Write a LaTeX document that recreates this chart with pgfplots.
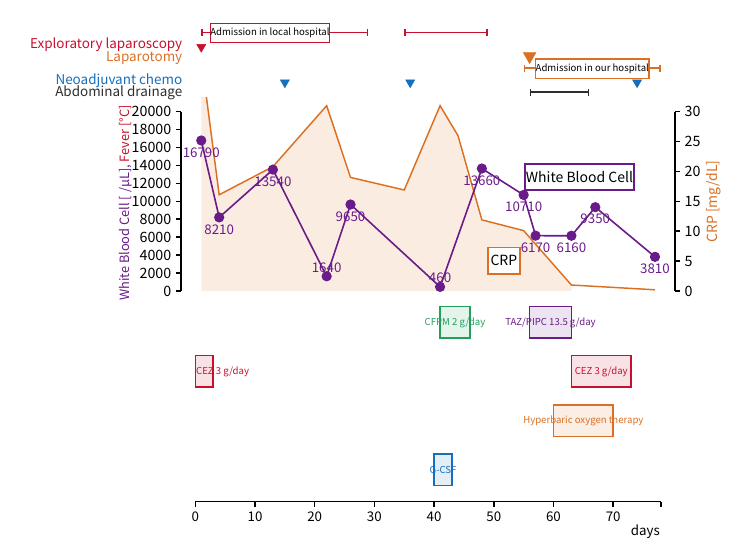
\documentclass[border=0pt]{standalone}
\usepackage{fontspec}
\setmainfont{Noto Sans CJK JP}
\usepackage{pgfplots}
\pgfplotsset{compat=1.18}
\usetikzlibrary{arrows.meta}
\definecolor{wbc}{RGB}{106,27,138}
\definecolor{crp}{RGB}{219,112,35}
\definecolor{crpfill}{RGB}{251,236,226}
\definecolor{crim}{RGB}{200,16,46}
\definecolor{blu}{RGB}{21,110,190}
\definecolor{grn}{RGB}{32,160,90}
\definecolor{drk}{RGB}{45,45,45}
\newcommand\fs[1]{\fontsize{#1}{#1}\selectfont}
\newcommand\px[2]{({#1*0.75pt},{(556-#2)*0.75pt})}
\begin{document}
\begin{tikzpicture}
\path[use as bounding box] (0,0) rectangle (562.5pt,417pt);
% ---------------- bottom (time) axis with annotations ----------------
\begin{axis}[
  at={(146.475pt,40.725pt)}, anchor=south west,
  scale only axis, width=349.245pt, height=361.275pt,
  xmin=0, xmax=78, ymin=54.3, ymax=536,
  axis x line=bottom, axis y line=none,
  x axis line style={line width=1.2pt,-},
  clip=false,
  xtick={0,10,...,70}, extra x ticks={78}, extra x tick labels={},
  tick align=outside, major tick length=3.75pt,
  every tick/.style={black, line width=1.2pt},
  xticklabel style={font=\fs{10}},
  /pgf/number format/assume math mode=true,
]
% event triangles
\addplot[only marks, mark=triangle*, mark size=3.9pt, color=crim, mark options={rotate=180, draw=none, fill=crim}] coordinates {(1,509)};
\addplot[only marks, mark=triangle*, mark size=5.5pt, color=crp, mark options={rotate=180, draw=none, fill=crp}] coordinates {(56,499.8)};
\addplot[only marks, mark=triangle*, mark size=3.9pt, color=blu, mark options={rotate=180, draw=none, fill=blu}] coordinates {(15,473.5)(36,473.5)(74,473.5)};
% admission / drainage bars
\addplot[crim, line width=1.2pt, mark=none, arrows={Bar[width=5pt]-Bar[width=5pt]}] coordinates {(1,523.3)(29,523.3)};
\addplot[crim, line width=1.2pt, mark=none, arrows={Bar[width=5pt]-Bar[width=5pt]}] coordinates {(35,523.3)(49,523.3)};
\addplot[crp, line width=1.2pt, mark=none, arrows={Bar[width=5pt]-Bar[width=5pt]}] coordinates {(55,487.7)(78,487.7)};
\addplot[drk, line width=1.2pt, mark=none, arrows={Bar[width=5pt]-Bar[width=5pt]}] coordinates {(56,463.7)(66,463.7)};
\node[draw=crim, fill=white, line width=1.1pt, minimum width=88.5pt, minimum height=14.5pt, inner sep=0pt, font=\fs{7.2}] at (axis cs:12.5,523) {Admission in local hospital};
\node[draw=crp, fill=white, line width=1.1pt, minimum width=83.7pt, minimum height=14.5pt, inner sep=0pt, font=\fs{7.2}] at (axis cs:66.5,487.3) {Admission in our hospital};
% treatment boxes
\addplot[draw=crim, fill=crim!12, line width=1.2pt, mark=none] coordinates {(0,168.7)(3,168.7)(3,200.3)(0,200.3)} -- cycle;
\addplot[draw=grn, fill=grn!12, line width=1.2pt, mark=none] coordinates {(41,217.7)(46,217.7)(46,249.3)(41,249.3)} -- cycle;
\addplot[draw=wbc, fill=wbc!12, line width=1.2pt, mark=none] coordinates {(56,217.7)(63,217.7)(63,249.3)(56,249.3)} -- cycle;
\addplot[draw=crim, fill=crim!12, line width=1.2pt, mark=none] coordinates {(63,168.7)(73,168.7)(73,200.3)(63,200.3)} -- cycle;
\addplot[draw=crp, fill=crp!12, line width=1.2pt, mark=none] coordinates {(60,119.3)(70,119.3)(70,151)(60,151)} -- cycle;
\addplot[draw=blu, fill=blu!12, line width=1.2pt, mark=none] coordinates {(40,70.3)(43,70.3)(43,102)(40,102)} -- cycle;
\node[anchor=west, inner sep=0pt, text=crim, font=\fs{7.2}] at (axis cs:0.1,184.5) {CEZ 3 g/day};
\node[text=grn, inner sep=0pt, font=\fs{7.2}] at (axis cs:43.5,233.5) {CFPM 2 g/day};
\node[text=wbc, inner sep=0pt, font=\fs{7.2}] at (axis cs:59.5,233.5) {TAZ/PIPC 13.5 g/day};
\node[text=crim, inner sep=0pt, font=\fs{7.2}] at (axis cs:68,184.5) {CEZ 3 g/day};
\node[text=crp, inner sep=0pt, font=\fs{7.2}] at (axis cs:65,135.2) {Hyperbaric oxygen therapy};
\node[text=blu, inner sep=0pt, font=\fs{7.2}] at (axis cs:41.5,86.2) {G-CSF};
\end{axis}
% ---------------- CRP (right) axis ----------------
\begin{axis}[
  at={(135.75pt,198.75pt)}, anchor=south west,
  scale only axis, width=370.5pt, height=144.75pt,
  xmin=-2.395, xmax=80.352, ymin=0, ymax=32.29,
  axis x line=none, axis y line=right,
  y axis line style={draw=none},
  ytick={0,5,...,30},
  tick align=outside, major tick length=3.75pt,
  every tick/.style={black, line width=1.2pt},
  yticklabel style={font=\fs{10.7}},
  /pgf/number format/assume math mode=true,
]
\addplot[fill=crpfill, draw=none, mark=none] coordinates {(1,0)(1,39)(4,16.1)(13,20.8)(22,31.0)(26,19.0)(35,16.9)(41,31.0)(44,26.0)(48,11.9)(55,10.1)(63,1.0)(63,0)} -- cycle;
\addplot[crp, line width=1.1pt, mark=none] coordinates {(1,39)(4,16.1)(13,20.8)(22,31.0)(26,19.0)(35,16.9)(41,31.0)(44,26.0)(48,11.9)(55,10.1)(63,1.0)(77,0.2)};
\coordinate (RT) at (axis cs:80.352,30);
\coordinate (RB) at (axis cs:80.352,0);
\end{axis}
\draw[line width=1.2pt] (RT)--(RB);
% ---------------- WBC (left) axis ----------------
\begin{axis}[
  at={(135.75pt,198.75pt)}, anchor=south west,
  scale only axis, width=370.5pt, height=144.75pt,
  xmin=-2.395, xmax=80.352, ymin=0, ymax=21528,
  axis x line=none, axis y line=left,
  y axis line style={draw=none},
  ytick={0,2000,...,20000}, scaled y ticks=false,
  tick align=outside, major tick length=3.75pt,
  every tick/.style={black, line width=1.2pt},
  yticklabel style={font=\fs{10.7}, /pgf/number format/1000 sep={}},
  /pgf/number format/assume math mode=true,
]
\addplot[wbc, line width=1.2pt, mark=*, mark size=3.2pt] coordinates {(1,16790)(4,8210)(13,13540)(22,1640)(26,9650)(41,460)(48,13660)(55,10710)(57,6170)(63,6160)(67,9350)(77,3810)};
\addplot[wbc, only marks, mark=*, mark size=3.2pt, nodes near coords, point meta=explicit symbolic, nodes near coords align={center}, every node near coord/.append style={yshift=-9pt, font=\fs{10}, text=wbc, inner sep=0pt}] coordinates {(1,16790)[16790] (4,8210)[8210] (13,13540)[13540] (26,9650)[9650] (48,13660)[13660] (55,10710)[10710] (57,6170)[6170] (63,6160)[6160] (67,9350)[9350] (77,3810)[3810]};
\addplot[wbc, only marks, mark=*, mark size=3.2pt, nodes near coords, point meta=explicit symbolic, nodes near coords align={center}, every node near coord/.append style={yshift=6.5pt, font=\fs{10}, text=wbc, inner sep=0pt}] coordinates {(22,1640)[1640] (41,460)[460]};
\coordinate (LT) at (axis cs:-2.395,20000);
\coordinate (LB) at (axis cs:-2.395,0);
\end{axis}
\draw[line width=1.2pt] (LT)--(LB);
% legend-like boxes
\node[draw=wbc, fill=white, line width=1.1pt, minimum width=81.75pt, minimum height=19.5pt, inner sep=0pt, font=\fs{10.5}] at \px{579.5}{177} {White Blood Cell};
\node[draw=crp, fill=white, line width=1.1pt, minimum width=24.2pt, minimum height=20pt, inner sep=0pt, font=\fs{10.5}] at \px{503.9}{260.7} {CRP};
% axis titles
\node[rotate=90, inner sep=0pt, font=\fs{9.6}] at \px{126}{203} {\textcolor{wbc}{White Blood Cell [ /µL],} \textcolor{crim}{Fever [°C]}};
\node[rotate=90, inner sep=0pt, font=\fs{10.5}, text=crp] at \px{713.3}{201.7} {CRP [mg/dL]};
\node[anchor=east, inner sep=0pt, font=\fs{10}] at \px{660}{531.7} {days};
% event legend texts
\node[anchor=east, inner sep=0pt, font=\fs{10.1}, text=crim] at \px{182.5}{44.5} {Exploratory laparoscopy};
\node[anchor=east, inner sep=0pt, font=\fs{10.1}, text=crp] at \px{182.5}{57.8} {Laparotomy};
\node[anchor=east, inner sep=0pt, font=\fs{10.1}, text=blu] at \px{182.5}{80.5} {Neoadjuvant chemo};
\node[anchor=east, inner sep=0pt, font=\fs{10.1}, text=drk] at \px{182.5}{93.2} {Abdominal drainage};
\end{tikzpicture}
\end{document}
